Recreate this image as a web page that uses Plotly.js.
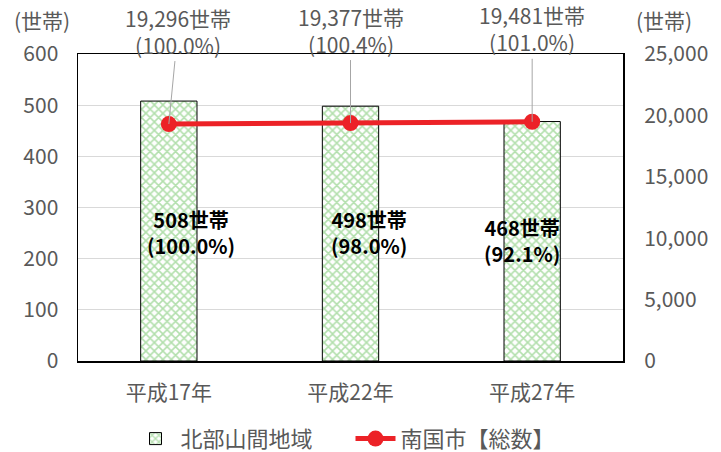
<!DOCTYPE html>
<html>
<head>
<meta charset="utf-8">
<script src="https://cdn.plot.ly/plotly-3.0.1.min.js"></script>
<style>
  html, body { margin: 0; padding: 0; background: #fff; }
  #chart { width: 721px; height: 452px; }
</style>
</head>
<body>
<div id="chart"></div>
<script>
// 世帯数の推移：北部山間地域（棒）と南国市総数（折れ線）
const years = ["平成17年", "平成22年", "平成27年"];
const northHouseholds = [508, 498, 468];
const cityHouseholds = [19296, 19377, 19481];
const leftTicks = [0, 100, 200, 300, 400, 500, 600];
const rightTicks = [0, 5000, 10000, 15000, 20000, 25000];
const rightTickText = ["0", "5,000", "10,000", "15,000", "20,000", "25,000"];

const FONT = '"Noto Sans CJK JP", "Noto Sans", sans-serif';
const GRAY = '#595959';

function withComma(n) {
  return String(n).replace(/\B(?=(\d{3})+(?!\d))/g, ',');
}
function ratio(v, base) {
  return (v / base * 100).toFixed(1);
}

const barTrace = {
  type: 'bar',
  name: '北部山間地域',
  x: years,
  y: northHouseholds,
  width: 0.31,
  marker: {
    color: '#ffffff',
    line: { color: '#000000', width: 1 },
    pattern: { shape: 'x', fgcolor: '#b2dfac', bgcolor: '#ffffff', size: 6, solidity: 0.45 }
  },
  hoverinfo: 'skip'
};

const lineTrace = {
  type: 'scatter',
  mode: 'lines+markers',
  name: '南国市【総数】',
  x: years,
  y: cityHouseholds,
  yaxis: 'y2',
  line: { color: '#ec2227', width: 5 },
  marker: { color: '#ec2227', size: 16 },
  hoverinfo: 'skip'
};

// 棒の中のラベル位置（左軸の値で指定）と横方向のずらし
const barLabelY = [252, 252, 236];
const barLabelShift = [22, 18, -10];
// 折れ線ラベルの引き出し線オフセット
const lineLabelAx = [9, 0, 0];

const annotations = [];
years.forEach((yr, i) => {
  annotations.push({
    x: yr, y: barLabelY[i], xref: 'x', yref: 'y',
    xshift: barLabelShift[i],
    showarrow: false,
    text: '<b>' + northHouseholds[i] + '世帯<br>(' + ratio(northHouseholds[i], northHouseholds[0]) + '%)</b>',
    font: { family: FONT, size: 20, color: '#000000' },
    align: 'center'
  });
  annotations.push({
    x: yr, y: cityHouseholds[i], xref: 'x', yref: 'y2',
    showarrow: true, arrowhead: 0, arrowwidth: 1, arrowcolor: '#a6a6a6',
    ax: lineLabelAx[i], ay: -93, standoff: 0,
    text: withComma(cityHouseholds[i]) + '世帯<br>(' + ratio(cityHouseholds[i], cityHouseholds[0]) + '%)',
    font: { family: FONT, size: 21, color: GRAY },
    align: 'center'
  });
});
annotations.push({
  xref: 'paper', yref: 'paper', x: -0.066, y: 1.11, xanchor: 'center', yanchor: 'middle',
  showarrow: false, text: '(世帯)', font: { family: FONT, size: 21, color: GRAY }
});
annotations.push({
  xref: 'paper', yref: 'paper', x: 1.075, y: 1.11, xanchor: 'center', yanchor: 'middle',
  showarrow: false, text: '(世帯)', font: { family: FONT, size: 21, color: GRAY }
});

const layout = {
  width: 721,
  height: 452,
  margin: { l: 78, r: 98, t: 54, b: 91, autoexpand: false },
  paper_bgcolor: '#ffffff',
  plot_bgcolor: '#ffffff',
  font: { family: FONT, size: 20, color: GRAY },
  showlegend: true,
  legend: {
    orientation: 'h', x: 0.5, xanchor: 'center', y: -0.185, yanchor: 'top',
    font: { family: FONT, size: 22, color: GRAY },
    itemwidth: 40,
    entrywidth: 165, entrywidthmode: 'pixels',
    traceorder: 'normal'
  },
  xaxis: {
    showline: true, mirror: true, linecolor: '#000000', linewidth: 1.5,
    ticks: 'outside', ticklen: 12, tickcolor: 'rgba(0,0,0,0)',
    tickfont: { family: FONT, size: 21, color: GRAY },
    fixedrange: true
  },
  yaxis: {
    range: [0, 600], tickvals: leftTicks,
    showgrid: true, gridcolor: '#d9d9d9', gridwidth: 1,
    showline: true, mirror: true, linecolor: '#000000', linewidth: 1.5,
    zeroline: false,
    ticks: 'outside', ticklen: 14, tickcolor: 'rgba(0,0,0,0)',
    tickfont: { family: FONT, size: 21, color: GRAY },
    fixedrange: true
  },
  yaxis2: {
    overlaying: 'y', side: 'right',
    range: [0, 25000], tickvals: rightTicks, ticktext: rightTickText,
    showgrid: false, zeroline: false, showline: false,
    ticks: 'outside', ticklen: 16, tickcolor: 'rgba(0,0,0,0)',
    tickfont: { family: FONT, size: 21, color: GRAY },
    fixedrange: true
  },
  annotations: annotations
};

Plotly.newPlot('chart', [barTrace, lineTrace], layout, { displayModeBar: false, staticPlot: true });
</script>
</body>
</html>
